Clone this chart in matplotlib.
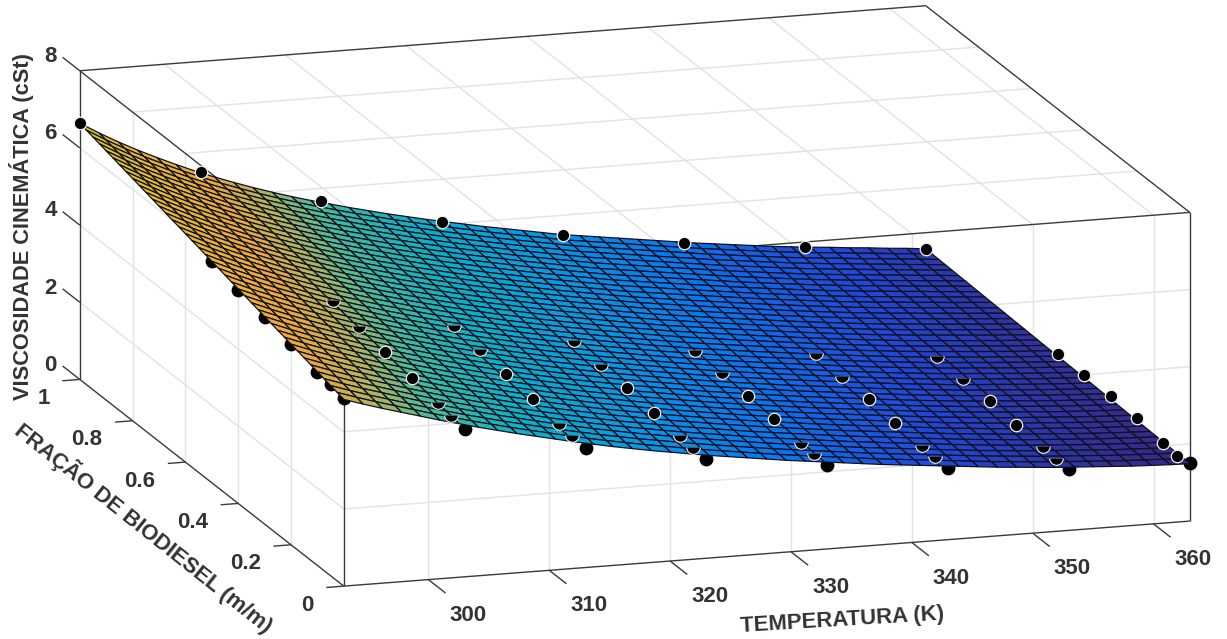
import numpy as np
import matplotlib
matplotlib.use("Agg")
import matplotlib.pyplot as plt
from matplotlib.colors import LinearSegmentedColormap
from matplotlib.markers import MarkerStyle
from mpl_toolkits.mplot3d import proj3d

plt.rcParams['font.family'] = ['Liberation Sans', 'DejaVu Sans']

# measured points, one list per biodiesel fraction
temperature = [293, 303, 313, 323, 333, 343, 353, 363]
fraction = [0, 0.05, 0.1, 0.2, 0.3, 0.4, 0.5, 1]
visc_000 = [4.88, 3.84, 3.10, 2.57, 2.17, 1.85, 1.60, 1.50]
visc_005 = [4.96, 3.93, 3.17, 2.62, 2.22, 1.89, 1.60, 1.43]
visc_010 = [5.01, 3.99, 3.20, 2.65, 2.23, 1.91, 1.64, 1.49]
visc_020 = [5.21, 4.09, 3.29, 2.70, 2.29, 1.94, 1.67, 1.60]
visc_030 = [5.36, 4.22, 3.41, 2.81, 2.35, 2.03, 1.74, 1.64]
visc_040 = [5.53, 4.36, 3.52, 2.90, 2.44, 2.09, 1.80, 1.64]
visc_050 = [5.75, 4.50, 3.61, 2.97, 2.49, 2.15, 1.85, 1.65]
visc_100 = [6.64, 5.14, 4.14, 3.37, 2.79, 2.34, 1.99, 1.70]

# surface edges read along the mesh columns, fraction 0 and fraction 1
edge_diesel = [4.84, 4.68, 4.53, 4.39, 4.25, 4.11, 3.98, 3.85, 3.73, 3.61, 3.50, 3.39,
               3.28, 3.18, 3.08, 2.99, 2.90, 2.82, 2.74, 2.66, 2.59, 2.52, 2.45, 2.38,
               2.32, 2.26, 2.20, 2.14, 2.08, 2.03, 1.98, 1.93, 1.88, 1.83, 1.78, 1.74,
               1.70, 1.66, 1.63, 1.60, 1.57, 1.54, 1.52, 1.50, 1.49]
edge_biodiesel = [6.64, 6.35, 6.08, 5.83, 5.60, 5.38, 5.17, 4.98, 4.80, 4.63, 4.47, 4.32,
                  4.18, 4.05, 3.92, 3.80, 3.68, 3.57, 3.46, 3.36, 3.26, 3.16, 3.07, 2.98,
                  2.89, 2.80, 2.73, 2.66, 2.59, 2.52, 2.45, 2.38, 2.31, 2.25, 2.19, 2.13,
                  2.07, 2.02, 1.97, 1.93, 1.88, 1.84, 1.79, 1.75, 1.70]

x_ticks = [300, 310, 320, 330, 340, 350, 360]
y_ticks = [0, 0.2, 0.4, 0.6, 0.8, 1]
y_tick_labels = ['0', '0.2', '0.4', '0.6', '0.8', '1']
z_ticks = [0, 2, 4, 6, 8]

# colour stops as seen on the surface
color_stops = [(0, '#352a87'), (0.08, '#2048d8'), (0.18, '#0a78ee'), (0.29, '#0a9ae0'),
               (0.39, '#08b0c8'), (0.515, '#45bb9a'), (0.6, '#b4b45c'), (0.7, '#eea83a'),
               (0.84, '#e8b82e'), (1, '#d4c81e')]
parula = LinearSegmentedColormap.from_list('parula', color_stops)

x0, x1 = 293, 363
y0, y1 = 0, 1
z0, z1 = 0, 8
dark = '#3a3a3a'
light = '#e2e2e2'
text_color = '#333333'

fig = plt.figure(figsize=(12.27, 6.39), dpi=100)
ax = fig.add_axes([4.7 / 1227, -287 / 639, 1, 1227 / 639], projection='3d')
ax.set_proj_type('ortho')
ax.view_init(elev=14.2, azim=-107.4)
ax.set_box_aspect((0.994, 0.99, 0.357), zoom=1.0215)
ax.set_xlim(x0, x1)
ax.set_ylim(y0, y1)
ax.set_zlim(z0, z1)
ax.set_axis_off()
ax.computed_zorder = False
proj = ax.get_proj()


def line(xs, ys, zs, color=dark, lw=1.0, zorder=2):
    ax.plot(xs, ys, zs, color=color, lw=lw, zorder=zorder, solid_capstyle='butt')


def tick_text(x, y, z, s, ha='center'):
    px, py, _ = proj3d.proj_transform(x, y, z, proj)
    ax.text2D(px, py, s, transform=ax.transData, ha=ha, va='center', fontsize=16,
              fontweight='bold', color=text_color)


# grid on the top plane and the two walls
for t in x_ticks:
    line([t, t], [y0, y1], [z1, z1], light)
    line([t, t], [y0, y0], [z0, z1], light)
for f in y_ticks[1:-1]:
    line([x0, x1], [f, f], [z1, z1], light)
    line([x0, x0], [f, f], [z0, z1], light)
for z in z_ticks[1:-1]:
    line([x0, x1], [y0, y0], [z, z], light)
    line([x0, x0], [y0, y1], [z, z], light)

# box edges
line([x0, x1], [y0, y0], [z0, z0])
line([x0, x0], [y0, y1], [z0, z0])
line([x0, x1], [y1, y1], [z1, z1])
line([x1, x1], [y0, y1], [z1, z1])
line([x0, x0], [y0, y1], [z1, z1])
line([x0, x1], [y0, y0], [z1, z1])
line([x0, x0], [y1, y1], [z0, z1])
line([x1, x1], [y0, y0], [z0, z1])
line([x0, x0], [y0, y0], [z0, z1])

# ticks and their labels
for t in x_ticks:
    line([t, t], [y0, -0.065], [z0, z0])
    tick_text(t, -0.15, -0.12, str(t))
for f, lab in zip(y_ticks, y_tick_labels):
    line([x0, x0 - 1.45], [f, f], [z0, z0])
    tick_text(x0 - 2.5, f, -0.43, lab, ha='right')
for z in z_ticks:
    line([x0, x0], [y1, 1.065], [z, z])
    tick_text(x0, 1.11, z - 0.22, str(z))

# mesh rows are straight in the picture, so each column runs edge to edge
mesh_t = np.linspace(x0, x1, len(edge_diesel))
mesh_f = np.linspace(y0, y1, 41)
T, F = np.meshgrid(mesh_t, mesh_f)
Z = np.array(edge_diesel) + F * (np.array(edge_biodiesel) - np.array(edge_diesel))

visc = np.array([visc_000, visc_005, visc_010, visc_020, visc_030, visc_040, visc_050, visc_100])
pt_t, pt_f = np.meshgrid(temperature, fraction)
pt_t, pt_f, pt_z = pt_t.ravel(), pt_f.ravel(), visc.ravel()

# which points the surface cuts, and how
under = ((pt_f == 0) | (pt_t == 293)) & (pt_f < 1)
half = np.isin(pt_f, [0.05, 0.1, 0.4, 0.5]) & (pt_t > 293) & (pt_t < 363)
full = ~under & ~half

ax.scatter(pt_t[under], pt_f[under], pt_z[under], s=80, c='black', depthshade=False, zorder=3)
ax.plot_surface(T, F, Z, rcount=41, ccount=45, cmap=parula, vmin=1.49, vmax=6.64,
                edgecolor='#101020', linewidth=0.9, shade=False, antialiased=True, zorder=4)
ax.scatter(pt_t[full], pt_f[full], pt_z[full], s=80, c='black', edgecolors='#f0f0f0',
           linewidths=0.9, depthshade=False, zorder=5)
half_marker = MarkerStyle('o', fillstyle='bottom')
ax.scatter(pt_t[half], pt_f[half], pt_z[half], s=112, c='#e8e8e8', marker=half_marker,
           linewidths=0, depthshade=False, zorder=5)
ax.scatter(pt_t[half], pt_f[half], pt_z[half], s=80, c='black', marker=half_marker,
           linewidths=0, depthshade=False, zorder=6)

fig.text(842 / 1227, 1 - 620 / 639, 'TEMPERATURA (K)', ha='center', va='center', rotation=3.5,
         fontsize=15.9, fontweight='bold', color=text_color, rotation_mode='anchor')
fig.text(144 / 1227, 1 - 528 / 639, 'FRAÇÃO DE BIODIESEL (m/m)', ha='center', va='center',
         rotation=-38.5, fontsize=15.9, fontweight='bold', color=text_color, rotation_mode='anchor')
fig.text(22 / 1227, 1 - 227 / 639, 'VISCOSIDADE CINEMÁTICA (cSt)', ha='center', va='center',
         rotation=90, fontsize=15.7, fontweight='bold', color=text_color)

fig.savefig('out.png', dpi=100)
